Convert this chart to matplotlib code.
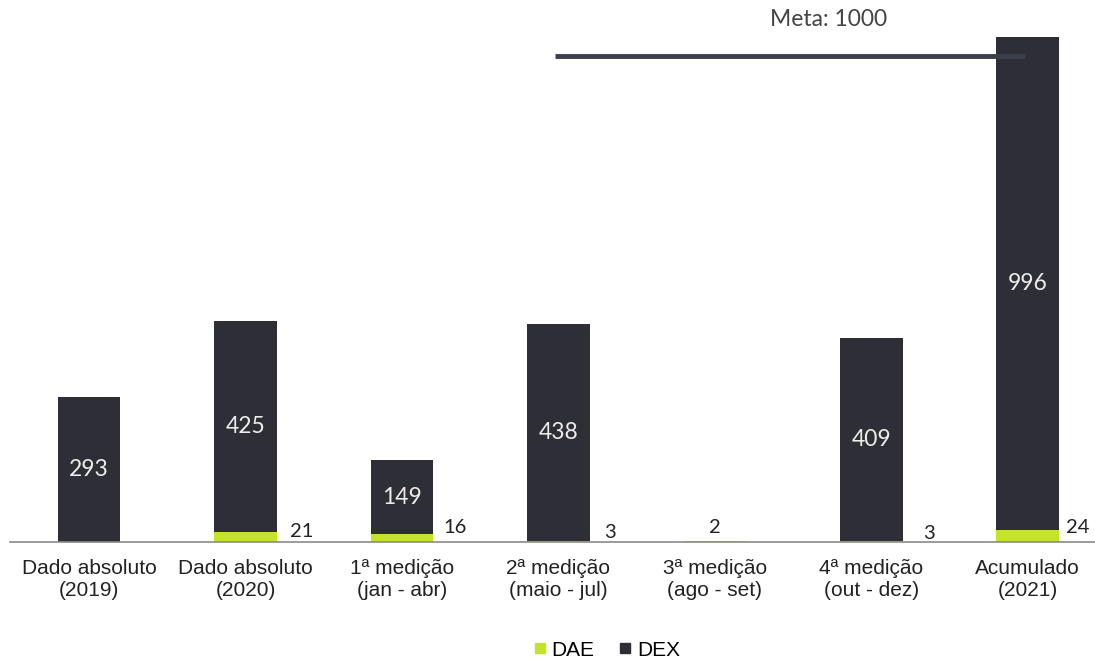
import numpy as np
import matplotlib.pyplot as plt
from matplotlib.lines import Line2D

# === Données ===
categorias = [
    "Dado absoluto\n(2019)",
    "Dado absoluto\n(2020)",
    "1ª medição\n(jan - abr)",
    "2ª medição\n(maio - jul)",
    "3ª medição\n(ago - set)",
    "4ª medição\n(out - dez)",
    "Acumulado\n(2021)",
]
dae = [0, 21, 16, 3, 2, 3, 24]
dex = [293, 425, 149, 438, 0, 409, 996]
meta_texto = "Meta: 1000"
meta_linha = 982  # position

# décalage des étiquettes DAE (en unités de catégorie / valeur)
dae_dx = [0, 0.36, 0.34, 0.33, 0.0, 0.37, 0.32]
dae_dy = [0, 22, 30, 20, 30, 17, 30]

verde = "#c5e22c"
escuro = "#2e2e36"

fig = plt.figure(figsize=(10.95, 6.6), dpi=100)
ax = fig.add_axes([10 / 1095, 118 / 660, 1085 / 1095, 522 / 660])

x = np.arange(len(categorias))
w = 0.40
ax.bar(x, dae, width=w, color=verde, zorder=2)
ax.bar(x, dex, width=w, bottom=dae, color=escuro, zorder=2)

# étiquettes DEX dans les barres
for i in range(len(x)):
    if dex[i] > 0:
        ax.text(x[i], dae[i] + dex[i] / 2, str(dex[i]), ha="center", va="center",
                color="#ececec", fontsize=16.5, family="Lato")

# étiquettes DAE à côté
for i in range(len(x)):
    if dae[i] > 0:
        ax.text(x[i] + dae_dx[i], dae_dy[i], str(dae[i]), ha="center", va="center",
                color="#222222", fontsize=14.5, family="Lato")

# ligne de la meta
ax.plot([2.98, 5.98], [meta_linha, meta_linha], color="#3b3e4b", lw=3.5, zorder=3,
        solid_capstyle="butt")
ax.text(4.73, 1055, meta_texto, ha="center", va="center", color="#444444",
        fontsize=16.5, family="Lato")

ax.set_xlim(-0.505, 6.43)
ax.set_ylim(0, 1054)
ax.set_xticks(x)
ax.set_xticklabels(categorias, fontsize=15, family="Liberation Sans", color="#222222")
ax.tick_params(axis="x", length=0, pad=12)
ax.set_yticks([])
for s in ["top", "right", "left"]:
    ax.spines[s].set_visible(False)
ax.spines["bottom"].set_color("#8a8a8a")
ax.spines["bottom"].set_linewidth(1.2)

handles = [
    Line2D([], [], marker="s", ls="", color=verde, markersize=7, label="DAE"),
    Line2D([], [], marker="s", ls="", color=escuro, markersize=7, label="DEX"),
]
fig.legend(handles=handles, loc="center", bbox_to_anchor=(0.554, 0.015), ncol=2,
           frameon=False, handlelength=0.6, handletextpad=0.25, columnspacing=1.2,
           prop={"family": "Liberation Sans", "size": 15})

plt.savefig("out.png", dpi=100)
